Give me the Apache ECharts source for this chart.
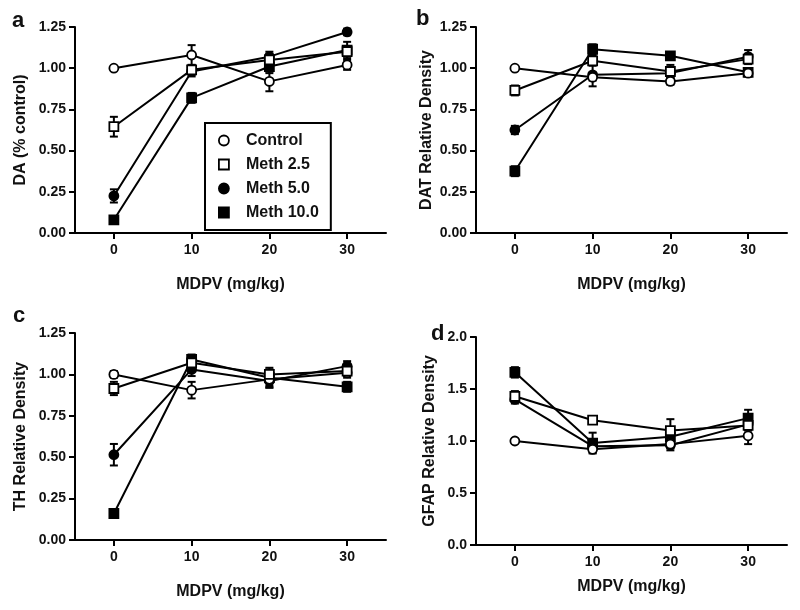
<!DOCTYPE html>
<html>
<head>
<meta charset="utf-8">
<script src="https://cdn.jsdelivr.net/npm/echarts@6/dist/echarts.min.js"></script>
<style>html,body{margin:0;padding:0;background:#fff;}#c{width:800px;height:610px;}</style>
</head>
<body>
<div id="c"></div>
<script>
// ---- data ----
const doses = [0, 10, 20, 30];
const groups = ['Control', 'Meth 2.5', 'Meth 5.0', 'Meth 10.0'];
const xTicks = [0, 10, 20, 30];
const yTicksABC = [0, 0.25, 0.5, 0.75, 1.0, 1.25];
const yTicksD = [0, 0.5, 1.0, 1.5, 2.0];

// panel a: DA (% control)
const daCtrl = [1.00, 1.08, 0.92, 1.02];
const daM25  = [0.645, 0.99, 1.05, 1.10];
const daM5   = [0.225, 0.98, 1.07, 1.22];
const daM10  = [0.08, 0.82, 1.01, 1.11];
const daCtrlErr = [0.01, 0.06, 0.06, 0.03];
const daM25Err  = [0.06, 0.03, 0.03, 0.03];
const daM5Err   = [0.04, 0.03, 0.03, 0.02];
const daM10Err  = [0.02, 0.03, 0.04, 0.05];

// panel b: DAT relative density
const datCtrl = [1.00, 0.945, 0.92, 0.97];
const datM25  = [0.865, 1.045, 0.98, 1.055];
const datM5   = [0.625, 0.96, 0.97, 1.07];
const datM10  = [0.375, 1.115, 1.075, 0.975];
const datCtrlErr = [0.01, 0.02, 0.02, 0.02];
const datM25Err  = [0.03, 0.03, 0.04, 0.03];
const datM5Err   = [0.025, 0.07, 0.03, 0.04];
const datM10Err  = [0.03, 0.03, 0.02, 0.02];

// panel c: TH relative density
const thCtrl = [1.00, 0.905, 0.97, 1.01];
const thM25  = [0.915, 1.07, 1.00, 1.02];
const thM5   = [0.515, 1.03, 0.96, 1.05];
const thM10  = [0.16, 1.09, 0.98, 0.925];
const thCtrlErr = [0.02, 0.05, 0.05, 0.03];
const thM25Err  = [0.04, 0.03, 0.04, 0.03];
const thM5Err   = [0.065, 0.04, 0.04, 0.03];
const thM10Err  = [0.015, 0.03, 0.05, 0.03];

// panel d: GFAP relative density
const gfapCtrl = [1.00, 0.92, 0.97, 1.05];
const gfapM25  = [1.43, 1.20, 1.10, 1.15];
const gfapM5   = [1.40, 0.95, 0.96, 1.16];
const gfapM10  = [1.66, 0.98, 1.04, 1.22];
const gfapCtrlErr = [0.02, 0.03, 0.04, 0.08];
const gfapM25Err  = [0.05, 0.03, 0.11, 0.05];
const gfapM5Err   = [0.04, 0.05, 0.05, 0.05];
const gfapM10Err  = [0.05, 0.10, 0.08, 0.08];

const panelLetters = ['a', 'b', 'c', 'd'];
const yNames = ['DA (% control)', 'DAT Relative Density', 'TH Relative Density', 'GFAP Relative Density'];
const xName = 'MDPV (mg/kg)';

// ---- build ----
const FONT = 'Liberation Sans, Arial, sans-serif';
const panels = [
  { means: [daCtrl, daM25, daM5, daM10], errs: [daCtrlErr, daM25Err, daM5Err, daM10Err], yt: yTicksABC, dec: 2, yGap: 46, xGap: 44 },
  { means: [datCtrl, datM25, datM5, datM10], errs: [datCtrlErr, datM25Err, datM5Err, datM10Err], yt: yTicksABC, dec: 2, yGap: 41, xGap: 44 },
  { means: [thCtrl, thM25, thM5, thM10], errs: [thCtrlErr, thM25Err, thM5Err, thM10Err], yt: yTicksABC, dec: 2, yGap: 46, xGap: 44 },
  { means: [gfapCtrl, gfapM25, gfapM5, gfapM10], errs: [gfapCtrlErr, gfapM25Err, gfapM5Err, gfapM10Err], yt: yTicksD, dec: 1, yGap: 38, xGap: 34 }
];
const grids = [
  { left: 75, top: 27, width: 311, height: 206 },
  { left: 476, top: 27, width: 311, height: 206 },
  { left: 75, top: 333, width: 311, height: 207 },
  { left: 476, top: 337, width: 311, height: 208 }
];
const symbols = ['circle', 'rect', 'circle', 'rect'];
const filled = [false, false, true, true];

const xAxes = [], yAxes = [], series = [];
panels.forEach((p, i) => {
  xAxes.push({
    type: 'value', gridIndex: i, min: -5, max: 35,
    name: xName, nameLocation: 'middle', nameGap: p.xGap,
    nameTextStyle: { fontFamily: FONT, fontWeight: 'bold', fontSize: 16, color: '#111' },
    axisLine: { show: true, onZero: false, lineStyle: { color: '#000', width: 2 } },
    axisTick: { show: true, length: 6, lineStyle: { color: '#000', width: 2 }, customValues: xTicks },
    axisLabel: { margin: 10, fontFamily: FONT, fontWeight: 'bold', fontSize: 14, color: '#111', customValues: xTicks },
    splitLine: { show: false }
  });
  const yt = p.yt;
  yAxes.push({
    type: 'value', gridIndex: i, min: yt[0], max: yt[yt.length - 1], interval: yt[1] - yt[0],
    name: yNames[i], nameLocation: 'middle', nameGap: p.yGap,
    nameTextStyle: { fontFamily: FONT, fontWeight: 'bold', fontSize: 16, color: '#111' },
    axisLine: { show: true, onZero: false, lineStyle: { color: '#000', width: 2 } },
    axisTick: { show: true, length: 6, lineStyle: { color: '#000', width: 2 } },
    axisLabel: { margin: 9, fontFamily: FONT, fontWeight: 'bold', fontSize: 14, color: '#111',
      formatter: v => v.toFixed(p.dec) },
    splitLine: { show: false }
  });
  // error bars
  const errData = [];
  p.means.forEach((m, g) => {
    m.forEach((v, k) => errData.push([doses[k], v, p.errs[g][k]]));
  });
  series.push({
    type: 'custom', xAxisIndex: i, yAxisIndex: i, z: 1, silent: true,
    data: errData, encode: { x: 0, y: 1 },
    renderItem: function (params, api) {
      const x = api.value(0), y = api.value(1), e = api.value(2);
      const top = api.coord([x, y + e]);
      const bot = api.coord([x, y - e]);
      const w = 4;
      const st = { stroke: '#000', lineWidth: 2 };
      return {
        type: 'group',
        children: [
          { type: 'line', shape: { x1: top[0], y1: top[1], x2: bot[0], y2: bot[1] }, style: st },
          { type: 'line', shape: { x1: top[0] - w, y1: top[1], x2: top[0] + w, y2: top[1] }, style: st },
          { type: 'line', shape: { x1: bot[0] - w, y1: bot[1], x2: bot[0] + w, y2: bot[1] }, style: st }
        ]
      };
    }
  });
  // lines
  p.means.forEach((m, g) => {
    series.push({
      type: 'line', name: groups[g], xAxisIndex: i, yAxisIndex: i, z: 3 + (filled[g] ? 0 : 1),
      data: m.map((v, k) => [doses[k], v]),
      symbol: symbols[g], symbolSize: 9, showAllSymbol: true,
      lineStyle: { color: '#000', width: 2 },
      itemStyle: { color: filled[g] ? '#000' : '#fff', borderColor: '#000', borderWidth: 1.8 },
      emphasis: { disabled: true },
      animation: false
    });
  });
});

const option = {
  backgroundColor: '#fff',
  animation: false,
  grid: grids,
  xAxis: xAxes,
  yAxis: yAxes,
  series: series,
  legend: {
    left: 205, top: 123,
    orient: 'vertical',
    borderColor: '#000', borderWidth: 2, borderRadius: 0,
    padding: [9, 12, 9, 13],
    itemWidth: 10, itemHeight: 10, itemGap: 7,
    selectedMode: false,
    textStyle: { fontFamily: FONT, fontWeight: 'bold', fontSize: 16, color: '#111', lineHeight: 17, padding: [0, 0, 0, 12] },
    data: groups.map((n, g) => ({
      name: n, icon: symbols[g],
      itemStyle: { color: filled[g] ? '#000' : '#fff', borderColor: '#000', borderWidth: 1.8 }
    }))
  },
  graphic: [
    { type: 'text', left: 12, top: 10, style: { text: panelLetters[0], font: 'bold 22px ' + FONT, fill: '#111' } },
    { type: 'text', left: 416, top: 8, style: { text: panelLetters[1], font: 'bold 22px ' + FONT, fill: '#111' } },
    { type: 'text', left: 13, top: 305, style: { text: panelLetters[2], font: 'bold 22px ' + FONT, fill: '#111' } },
    { type: 'text', left: 431, top: 323, style: { text: panelLetters[3], font: 'bold 22px ' + FONT, fill: '#111' } }
  ]
};

const chart = echarts.init(document.getElementById('c'), null, { renderer: 'canvas' });
chart.setOption(option);
</script>
</body>
</html>
